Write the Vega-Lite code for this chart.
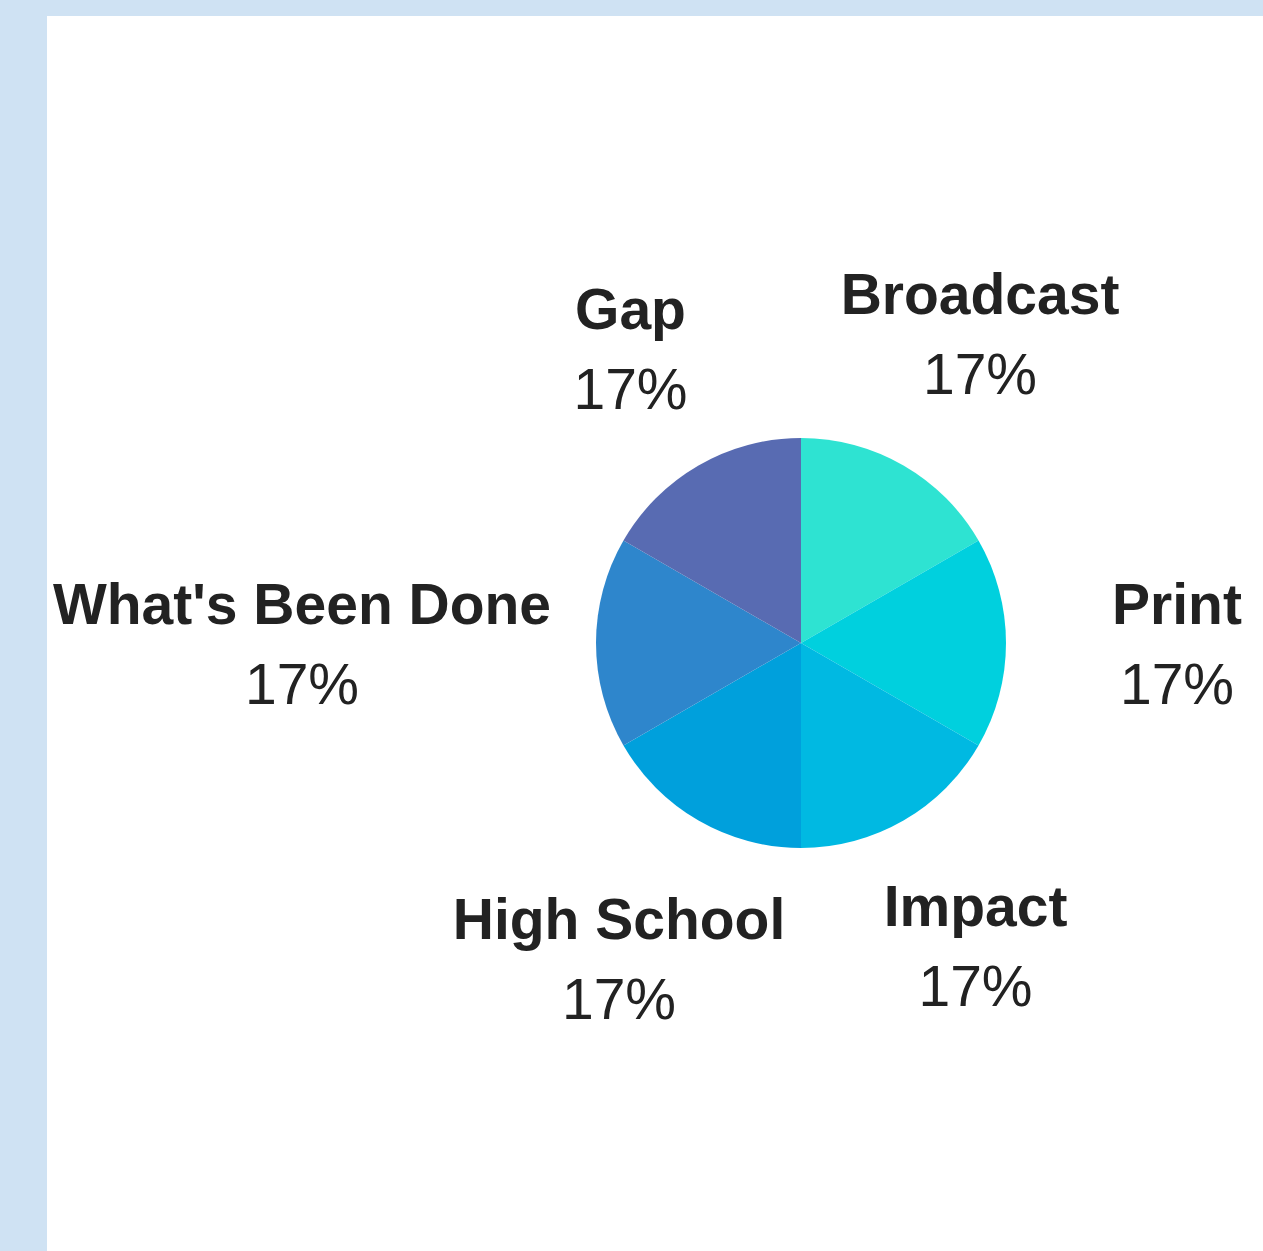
{
  "$schema": "https://vega.github.io/schema/vega-lite/v6.json",
  "autosize": {"type": "fit", "contains": "padding"},
  "width": 1263,
  "height": 1251,
  "padding": {"left": 47, "top": 16, "right": 0, "bottom": 0},
  "background": "#cfe2f3",
  "view": {"fill": "#ffffff", "stroke": null},
  "data": {
    "values": [
      {"idx": 1, "category": "Broadcast", "value": 16.67, "label": "17%"},
      {"idx": 2, "category": "Print", "value": 16.67, "label": "17%"},
      {"idx": 3, "category": "Impact", "value": 16.67, "label": "17%"},
      {"idx": 4, "category": "High School", "value": 16.67, "label": "17%"},
      {"idx": 5, "category": "What's Been Done", "value": 16.67, "label": "17%"},
      {"idx": 6, "category": "Gap", "value": 16.67, "label": "17%"}
    ]
  },
  "encoding": {
    "theta": {"field": "value", "type": "quantitative", "stack": true},
    "order": {"field": "idx", "type": "quantitative"}
  },
  "layer": [
    {
      "mark": {"type": "arc", "outerRadius": 205, "x": {"expr": "width/2+146"}, "y": {"expr": "height/2+9.5"}},
      "encoding": {
        "color": {
          "field": "category",
          "type": "nominal",
          "legend": null,
          "scale": {
            "domain": ["Broadcast", "Print", "Impact", "High School", "What's Been Done", "Gap"],
            "range": ["#2ee3d2", "#00d0de", "#00b9e2", "#00a0dc", "#2e86cc", "#586bb2"]
          }
        }
      }
    },
    {
      "mark": {"type": "text", "x": {"expr": "width/2+146"}, "y": {"expr": "height/2+9.5"}, "font": "Liberation Sans", "fontWeight": "bold", "fontSize": 57, "color": "#222222", "align": "center", "baseline": "alphabetic", "dy": -19},
      "encoding": {
        "text": {"field": "category", "type": "nominal"},
        "radius": {"value": {"expr": "datum.idx == 5 ? 499 : datum.idx == 2 ? 376 : datum.idx == 6 ? 341 : datum.idx == 3 ? 349 : datum.idx == 4 ? 364 : 358"}}
      }
    },
    {
      "mark": {"type": "text", "x": {"expr": "width/2+146"}, "y": {"expr": "height/2+9.5"}, "font": "Liberation Sans", "fontSize": 57, "color": "#222222", "align": "center", "baseline": "alphabetic", "dy": 61},
      "encoding": {
        "text": {"field": "label", "type": "nominal"},
        "radius": {"value": {"expr": "datum.idx == 5 ? 499 : datum.idx == 2 ? 376 : datum.idx == 6 ? 341 : datum.idx == 3 ? 349 : datum.idx == 4 ? 364 : 358"}}
      }
    }
  ]
}
